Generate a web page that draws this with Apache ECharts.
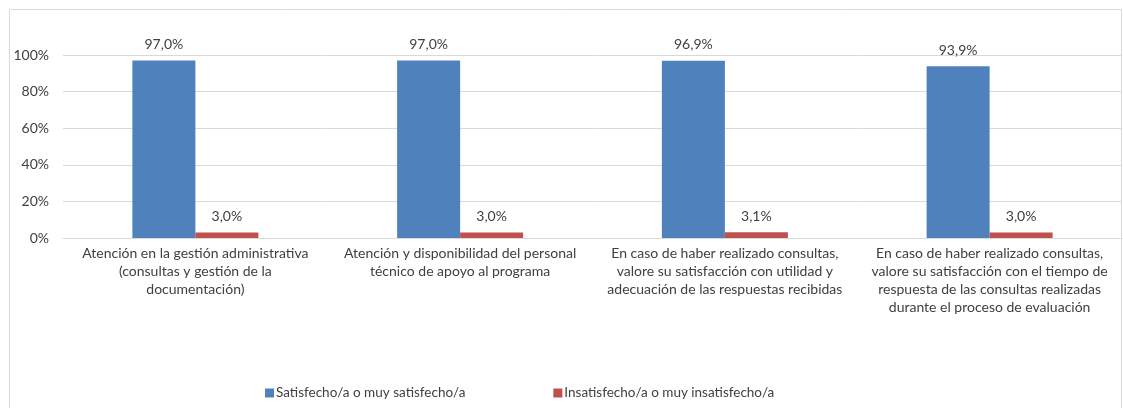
<!DOCTYPE html>
<html>
<head>
<meta charset="utf-8">
<script src="https://cdn.jsdelivr.net/npm/echarts@6/dist/echarts.min.js"></script>
<style>
  html, body { margin: 0; padding: 0; background: #fff; }
</style>
</head>
<body>
<div id="main" style="width: 1123px; height: 408px"></div>
<script>
// categorias (con saltos de linea como en el original)
var categories = [
  'Atención en la gestión administrativa\n(consultas y gestión de la\ndocumentación)',
  'Atención y disponibilidad del personal\ntécnico de apoyo al programa',
  'En caso de haber realizado consultas,\nvalore su satisfacción con utilidad y\nadecuación de las respuestas recibidas',
  'En caso de haber realizado consultas,\nvalore su satisfacción con el tiempo de\nrespuesta de las consultas realizadas\ndurante el proceso de evaluación'
];
var seriesNames = ['Satisfecho/a o muy satisfecho/a', 'Insatisfecho/a o muy insatisfecho/a'];
var satisfechos = [97.0, 97.0, 96.9, 93.9];
var insatisfechos = [3.0, 3.0, 3.1, 3.0];

var font = 'Lato';
var labelFmt = function (p) { return p.value.toFixed(1).replace('.', ',') + '%'; };

var chartDom = document.getElementById('main');
var myChart = echarts.init(chartDom);

var option = {
  animation: false,
  textStyle: { fontFamily: font },
  color: ['#4f81bd', '#c0504d'],
  graphic: [{
    type: 'rect',
    shape: { x: 9.5, y: 9.5, width: 1112, height: 410 },
    style: { fill: 'none', stroke: '#d9d9d9', lineWidth: 1 },
    silent: true
  }],
  grid: { left: 63, right: 1, top: 55, bottom: 170 },
  legend: {
    bottom: 3,
    left: 260,
    itemGap: 88,
    itemWidth: 9,
    itemHeight: 9,
    icon: 'rect',
    textStyle: { fontFamily: font, fontSize: 13.5, color: '#404040', padding: [0, 0, 0, -3] },
    data: seriesNames
  },
  xAxis: {
    type: 'category',
    data: categories,
    axisLine: { show: true, lineStyle: { color: '#d9d9d9' } },
    axisTick: { show: false },
    axisLabel: { interval: 0, color: '#404040', fontSize: 14, lineHeight: 18, margin: 6 }
  },
  yAxis: {
    type: 'value',
    min: 0,
    max: 100,
    interval: 20,
    axisLine: { show: false },
    axisTick: { show: false },
    splitLine: { lineStyle: { color: '#d9d9d9' } },
    axisLabel: { color: '#404040', fontSize: 14, margin: 14, formatter: '{value}%' }
  },
  series: [
    {
      name: seriesNames[0],
      type: 'bar',
      data: satisfechos,
      barWidth: 63,
      barGap: '0%',
      label: { show: true, position: 'top', distance: 9, color: '#404040', fontSize: 14, formatter: labelFmt }
    },
    {
      name: seriesNames[1],
      type: 'bar',
      data: insatisfechos,
      barWidth: 63,
      label: { show: true, position: 'top', distance: 9, color: '#404040', fontSize: 14, formatter: labelFmt }
    }
  ]
};

myChart.setOption(option);
</script>
</body>
</html>
